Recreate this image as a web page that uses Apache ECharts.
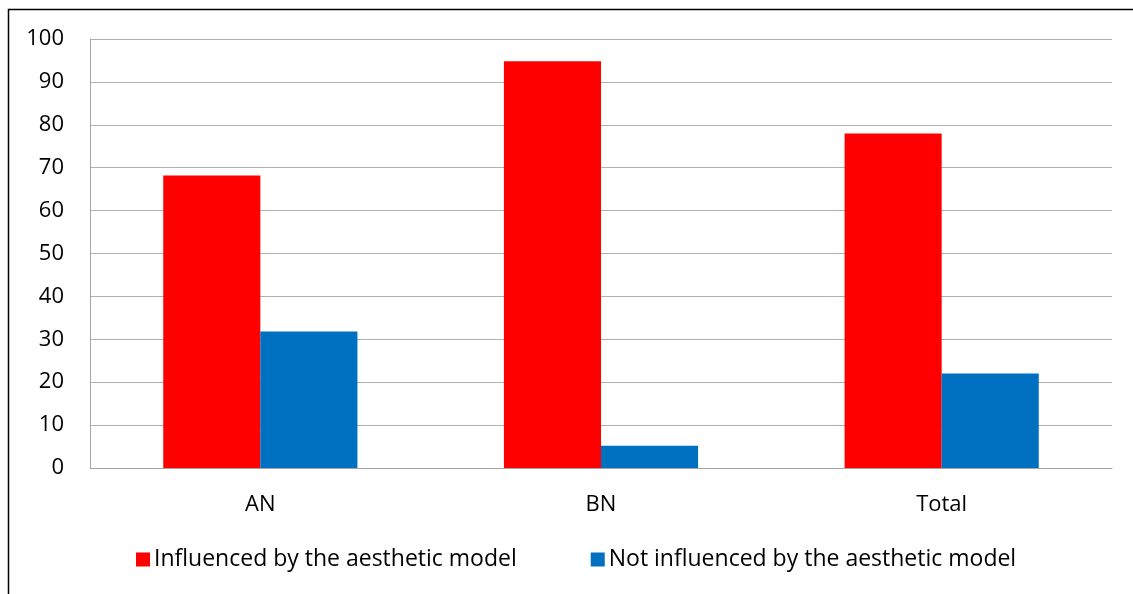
<!DOCTYPE html>
<html>
<head>
<meta charset="utf-8">
<script src="https://cdn.jsdelivr.net/npm/echarts@6/dist/echarts.min.js"></script>
<style>
  html, body { margin: 0; padding: 0; background: #fff; }
  #chart { width: 1133px; height: 594px; }
</style>
</head>
<body>
<div id="chart"></div>
<script>
// Share of respondents per group, in percent
const categories = ['AN', 'BN', 'Total'];
const influenced = [68.2, 94.8, 78];
const notInfluenced = [31.8, 5.2, 22];
const seriesNames = ['Influenced by the aesthetic model', 'Not influenced by the aesthetic model'];

const FONT = '"Open Sans", "Noto Sans", sans-serif';
const FONT_SIZE = 22;

const chart = echarts.init(document.getElementById('chart'));
chart.setOption({
  animation: false,
  graphic: [{
    type: 'rect',
    shape: { x: 8.5, y: 9.5, width: 1200, height: 700 },
    style: { fill: 'none', stroke: '#000', lineWidth: 1.5 },
    silent: true
  }],
  grid: { left: 90, right: 21, top: 39, bottom: 126 },
  legend: {
    left: 131, top: 543,
    itemWidth: 14, itemHeight: 14, itemGap: 74,
    icon: 'rect',
    textStyle: { fontFamily: FONT, fontSize: 23, color: '#000', padding: [0, 0, 0, -1] },
    data: seriesNames
  },
  xAxis: {
    type: 'category',
    data: categories,
    axisLine: { lineStyle: { color: '#a6a6a6', width: 1 } },
    axisTick: { show: false },
    axisLabel: { fontFamily: FONT, fontSize: FONT_SIZE, color: '#000', margin: 26 }
  },
  yAxis: {
    type: 'value',
    min: 0, max: 100, interval: 10,
    axisLine: { show: true, lineStyle: { color: '#a6a6a6', width: 1 } },
    axisTick: { show: false },
    splitLine: { lineStyle: { color: '#b0b0b0', width: 1 } },
    axisLabel: { fontFamily: FONT, fontSize: FONT_SIZE, color: '#000', margin: 26 }
  },
  series: [
    {
      name: seriesNames[0], type: 'bar', data: influenced,
      barGap: '0%', barCategoryGap: '43%',
      itemStyle: { color: '#ff0000' }
    },
    {
      name: seriesNames[1], type: 'bar', data: notInfluenced,
      itemStyle: { color: '#0070c0' }
    }
  ]
});
</script>
</body>
</html>
